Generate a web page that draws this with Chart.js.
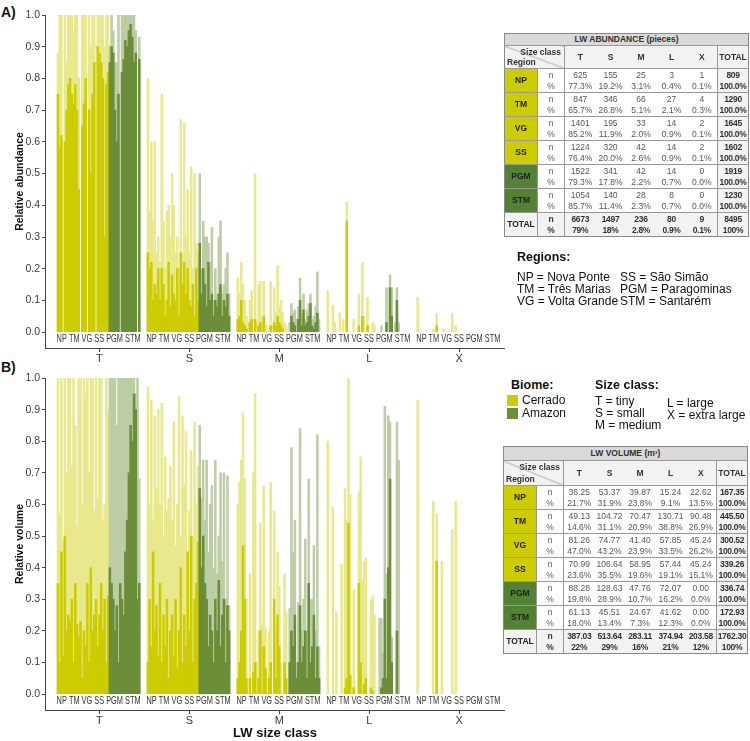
<!DOCTYPE html>
<html>
<head>
<meta charset="utf-8">
<script src="https://cdn.jsdelivr.net/npm/chart.js@4.4.1/dist/chart.umd.min.js"></script>
<style>
  body { margin:0; background:#fff; width:750px; height:741px; position:relative; overflow:hidden;
         font-family:"Liberation Sans", Arial, sans-serif; color:#111; }
  .abs { position:absolute; white-space:nowrap; }
  .panel { font-weight:bold; font-size:14px; }
  table.lw { position:absolute; border-collapse:collapse; table-layout:fixed; border:1px solid #888;
             font-family:"Liberation Sans", Arial, sans-serif; font-size:8.5px; color:#555; }
  table.lw td { padding:0; text-align:center; vertical-align:middle; line-height:1; white-space:nowrap; overflow:hidden; }
  table.lw .ttl { background:#d9d9d9; font-weight:bold; color:#333; border-bottom:1px solid #999; }
  table.lw .hd { background:#f2f2f2; font-weight:bold; color:#333; border-bottom:1px solid #999; }
  table.lw .diag { background:linear-gradient(to top right, #f2f2f2 calc(50% - 0.6px), #888 50%, #f2f2f2 calc(50% + 0.6px)); }
  table.lw .bl { border-left:1px solid #999; }
  table.lw .bt td { border-top:1px solid #999; }
  table.lw .reg { font-weight:bold; color:#222; }
  table.lw .tot { background:#f2f2f2; font-weight:bold; color:#333; letter-spacing:-0.3px; }
  .leg { font-size:12px; line-height:12px; }
</style>
</head>
<body>
<div class="abs panel" style="left:1px;top:4px;">A)</div>
<div class="abs panel" style="left:1px;top:359px;">B)</div>

<canvas id="chartA" class="abs" style="left:0;top:0;" width="505" height="370"></canvas>
<canvas id="chartB" class="abs" style="left:0;top:360px;" width="505" height="381"></canvas>

<div id="tableA"></div>
<div id="tableB"></div>

<div class="abs leg" style="left:517px;top:251px;font-weight:bold;font-size:12.5px;">Regions:</div>
<div class="abs leg" style="left:517px;top:271px;">NP = Nova Ponte<br>TM = Três Marias<br>VG = Volta Grande</div>
<div class="abs leg" style="left:620px;top:271px;">SS = São Simão<br>PGM = Paragominas<br>STM = Santarém</div>

<div class="abs leg" style="left:511px;top:379px;font-weight:bold;font-size:12.5px;">Biome:</div>
<div class="abs" style="left:507px;top:395px;width:11px;height:11px;background:rgb(204,204,0);"></div>
<div class="abs" style="left:507px;top:408px;width:11px;height:11px;background:rgb(107,142,56);"></div>
<div class="abs leg" style="left:522px;top:394px;line-height:13px;">Cerrado<br>Amazon</div>
<div class="abs leg" style="left:595px;top:379px;font-weight:bold;font-size:12.5px;">Size class:</div>
<div class="abs leg" style="left:595px;top:395px;">T = tiny<br>S = small<br>M = medium</div>
<div class="abs leg" style="left:667px;top:397px;">L = large<br>X = extra large</div>

<script>
// ---- data ----
const classes = ['T', 'S', 'M', 'L', 'X'];
const regions = ['NP', 'TM', 'VG', 'SS', 'PGM', 'STM'];
const regionBars = [7, 7, 8, 8, 9, 9];   // sampled sites per region (bars)
const amazonRegions = ['PGM', 'STM'];
const yTicks = [0, 0.1, 0.2, 0.3, 0.4, 0.5, 0.6, 0.7, 0.8, 0.9, 1.0];

// relative abundance: top = highest sample (light), base = overlapped part (solid)
const abundT_top  = [0.88,1,1,0,1,0.85,1, 1,1,0.95,1,1,0.8,0, 1,1,1,0,1,0.9,1,1, 0,1,1,1,1,0.9,1,1, 0.9,1,0.95,0.85,0.85,1,0,1,1, 1,1,1,1,1,1,0.95,0,0.93];
const abundT_base = [0.75,0.58,0.62,0,0.6,0.7,0.78, 0.8,0.75,0.72,0.78,0.7,0.45,0, 0.65,0.72,0.8,0,0.7,0.5,0.75,0.85, 0,0.9,0.88,0.85,0.8,0.3,0.78,0.82, 0.85,0.9,0.88,0.7,0.6,0.75,0,0.82,0.86, 0.92,0.9,0.95,0.97,0.93,0.85,0.88,0,0.86];
const abundS_top  = [0.8,0.38,0.6,0.35,0.6,0.25,0.3, 0.22,0.75,0.35,0.2,0.38,0.4,0.3, 0.5,0.4,0.25,0.3,0.2,0.67,0.25,0.66, 0.3,0.45,0.25,0.52,0.2,0.5,0.28,0.25, 0.5,0.2,0.35,0.3,0.3,0.28,0.22,0.33,0.1, 0.2,0.12,0.3,0.35,0.12,0.15,0.2,0.25,0.12];
const abundS_base = [0.25,0.2,0.22,0.1,0.15,0.12,0.2, 0.1,0.2,0.15,0.05,0.1,0.22,0.08, 0.18,0.12,0.1,0.2,0.05,0.25,0.15,0.22, 0.12,0.2,0.1,0.08,0.15,0.05,0.2,0.1, 0.28,0.12,0.2,0.15,0.08,0.22,0.1,0.12,0.05, 0.1,0.08,0.12,0.15,0.05,0.1,0.08,0.12,0.05];
const abundM_top  = [0.17,0.12,0.22,0.15,0.1,0.05,0.03, 0.1,0.13,0,0.5,0.03,0.15,0.16, 0.04,0.16,0.03,0.02,0,0.16,0.02,0.14, 0.06,0.21,0.08,0.1,0.06,0.03,0.02,0, 0.03,0.09,0.06,0.07,0.04,0.08,0.17,0.06,0.12, 0.04,0.07,0.09,0.12,0.04,0.05,0.08,0.19,0.04];
const abundM_base = [0.04,0.05,0.1,0.03,0.02,0.01,0, 0.03,0.04,0,0.04,0,0.02,0.03, 0,0.05,0,0,0,0.02,0,0.03, 0.02,0.05,0.03,0.02,0.01,0,0,0, 0,0.05,0.03,0.02,0,0.04,0.1,0.02,0.07, 0.02,0.03,0.05,0.09,0.02,0.01,0.03,0.06,0];
const abundL_top  = [0.13,0,0,0.085,0.03,0,0, 0.06,0,0.04,0,0.41,0,0, 0,0.04,0,0,0.12,0,0.22,0.05, 0,0.11,0,0,0.03,0.02,0,0, 0,0.02,0,0,0.14,0,0.18,0.14,0, 0.03,0.14,0.03,0,0,0,0,0,0];
const abundL_base = [0,0,0,0,0,0,0, 0,0,0,0,0.35,0,0, 0,0,0,0,0.02,0,0.05,0, 0,0.02,0,0,0,0,0,0, 0,0,0,0,0.03,0,0.14,0.05,0, 0,0.1,0,0,0,0,0,0,0];
const abundX_top  = [0.11,0,0,0,0,0,0, 0,0,0.01,0,0.06,0,0, 0,0.01,0,0,0,0,0.06,0, 0.02,0,0,0,0,0,0,0, 0,0,0,0,0,0,0,0,0, 0,0,0,0,0,0,0,0,0];
const abundX_base = [0,0,0,0,0,0,0, 0,0,0,0,0.02,0,0, 0,0,0,0,0,0,0,0, 0,0,0,0,0,0,0,0, 0,0,0,0,0,0,0,0,0, 0,0,0,0,0,0,0,0,0];

// relative volume
const volT_top  = [1,0.57,1,0.48,1,0.7,1, 1,0.72,1,0.85,0.53,1,1, 0.6,1,0.95,1,0.7,1,1,0.58, 1,0.62,1,1,0.55,0.6,1,0.9, 1,1,1,1,0.85,1,1,1,1, 1,1,1,1,1,1,0.95,1,0.68];
const volT_base = [0.35,0.1,0.45,0.12,0.5,0.2,0.25, 0.23,0.3,0.1,0.35,0.22,0.18,0.23, 0.05,0.2,0.15,0.35,0.1,0.4,0.2,0.25, 0.3,0.15,0.25,0.35,0.2,0.3,0.1,0.31, 0.4,0.35,0.3,0.2,0.28,0.1,0.35,0.3,0.25, 0.45,0.55,0.7,0.85,0.8,0.95,0.9,0.3,0.35];
const volS_top  = [0.97,0.6,0.93,0.55,0.88,0.65,0.9, 0.6,0.92,0.5,0.75,0.58,0.62,0.72, 0.55,0.86,0.47,0.6,0.94,0.5,0.88,0.66, 0.83,0.45,0.58,0.77,0.5,0.86,0.6,0.72, 0.85,0.62,0.74,0.55,0.74,0.45,0.6,0.66,0.4, 0.74,0.38,0.5,0.7,0.42,0.7,0.3,0.69,0.28];
const volS_base = [0.1,0.3,0.15,0.45,0.2,0.28,0.12, 0.35,0.1,0.25,0.15,0.3,0.05,0.2, 0.25,0.12,0.3,0.08,0.2,0.4,0.1,0.25, 0.15,0.45,0.2,0.5,0.1,0.3,0.35,0.48, 0.65,0.4,0.5,0.35,0.3,0.15,0.25,0.2,0.1, 0.3,0.2,0.36,0.15,0.25,0.3,0.1,0.28,0.2];
const volM_top  = [0.6,0.67,0.74,0.89,0.68,0.3,0, 0.38,0,0.7,0.95,0.1,0.2,0.54, 0.22,0.66,0.21,0,0.2,0.67,0,0.58, 0.2,0.45,0.34,0.1,0,0.38,0.26,0, 0.27,0.78,0.45,0.55,0.1,0.29,0.84,0.2,0.3, 0.49,0.2,0.68,0.3,0.3,0.47,0.2,0.82,0.15];
const volM_base = [0.05,0.1,0.2,0.47,0.3,0.05,0, 0.05,0,0.07,0.1,0,0.05,0.2, 0,0.15,0.08,0,0.05,0.1,0,0.3, 0.05,0.25,0.15,0,0,0.1,0.05,0, 0.1,0.2,0.15,0.25,0.05,0.1,0.28,0.1,0.15, 0.2,0.05,0.35,0.1,0.15,0.25,0.05,0.15,0.05];
const volL_top  = [0.8,0,0,0.59,0,0.26,0, 0,0.41,0,0.65,0.55,1.0,0.63, 0,0.33,0,0,0.64,0.75,0.36,0.42, 0.43,0,0,0.3,0.31,0.25,0,0, 0.24,0.24,0.13,0.91,0.38,0.88,0.86,0.18,0, 0,0.86,0.74,0,0,0,0,0,0];
const volL_base = [0,0,0,0,0,0,0, 0,0,0,0.02,0.05,0.54,0.06, 0,0.02,0,0,0.35,0.1,0,0.03, 0.05,0,0,0.02,0.01,0,0,0, 0,0.02,0.05,0.3,0.05,0.4,0.68,0.1,0, 0,0.2,0,0,0,0,0,0,0];
const volX_top  = [0.93,0,0,0,0,0,0, 0,0,0.61,0,0.57,0,0, 0.42,0,0,0,0,0,0.52,0, 0.61,0,0,0,0,0,0,0, 0,0,0,0,0,0,0,0,0, 0,0,0,0,0,0,0,0,0];
const volX_base = [0,0,0,0,0,0,0, 0,0,0,0,0.42,0,0, 0,0,0,0,0,0,0,0, 0,0,0,0,0,0,0,0, 0,0,0,0,0,0,0,0,0, 0,0,0,0,0,0,0,0,0];

// tables
const tableRows = ['NP', 'TM', 'VG', 'SS', 'PGM', 'STM', 'TOTAL'];
const abundN = [
  ['625','155','25','3','1','809'], ['847','346','66','27','4','1290'], ['1401','195','33','14','2','1645'],
  ['1224','320','42','14','2','1602'], ['1522','341','42','14','0','1919'], ['1054','140','28','8','0','1230'],
  ['6673','1497','236','80','9','8495']];
const abundPct = [
  ['77.3%','19.2%','3.1%','0.4%','0.1%','100.0%'], ['65.7%','26.8%','5.1%','2.1%','0.3%','100.0%'],
  ['85.2%','11.9%','2.0%','0.9%','0.1%','100.0%'], ['76.4%','20.0%','2.6%','0.9%','0.1%','100.0%'],
  ['79.3%','17.8%','2.2%','0.7%','0.0%','100.0%'], ['85.7%','11.4%','2.3%','0.7%','0.0%','100.0%'],
  ['79%','18%','2.8%','0.9%','0.1%','100%']];
const volN = [
  ['36.25','53.37','39.87','15.24','22.62','167.35'], ['49.13','104.72','70.47','130.71','90.48','445.50'],
  ['81.26','74.77','41.40','57.85','45.24','300.52'], ['70.99','106.64','58.95','57.44','45.24','339.26'],
  ['88.28','128.63','47.76','72.07','0.00','336.74'], ['61.13','45.51','24.67','41.62','0.00','172.93'],
  ['387.03','513.64','283.11','374.94','203.58','1762.30']];
const volPct = [
  ['21.7%','31.9%','23.8%','9.1%','13.5%','100.0%'], ['14.6%','31.1%','20.9%','38.8%','26.9%','100.0%'],
  ['47.0%','43.2%','23.9%','33.5%','26.2%','100.0%'], ['23.6%','35.5%','19.6%','19.1%','15.1%','100.0%'],
  ['19.8%','28.9%','10.7%','16.2%','0.0%','100.0%'], ['18.0%','13.4%','7.3%','12.3%','0.0%','100.0%'],
  ['22%','29%','16%','21%','12%','100%']];

// ---- layout of bar slots ----
const PAD_L = 7, GAP = 4, PAD_R = 3;
const CER = 'rgb(204,204,0)', AMZ = 'rgb(107,142,56)';
// light tones = the same colours at ~45% over white (opaque, so bars can overlap without seams)
const CER_L = 'rgb(232,232,140)', AMZ_L = 'rgb(188,204,165)';

function buildSlots(groups, fill) {
  const out = [];
  for (let i = 0; i < PAD_L; i++) out.push(fill);
  groups.forEach((g, gi) => {
    g.forEach(v => out.push(v));
    if (gi < groups.length - 1) for (let i = 0; i < GAP; i++) out.push(fill);
  });
  for (let i = 0; i < PAD_R; i++) out.push(fill);
  return out;
}
// zero = no bar drawn
const nz = arr => arr.map(v => (v ? v : null));

const regionOfBar = [];
regionBars.forEach((n, r) => { for (let i = 0; i < n; i++) regionOfBar.push(regions[r]); });
const barsPerGroup = regionOfBar.length;
const slotRegion = buildSlots(classes.map(() => regionOfBar), null);
const slotLabels = buildSlots(classes.map(c => regionOfBar.map((r, i) => i === barsPerGroup / 2 ? c : '')), '');
const solidColors = slotRegion.map(r => amazonRegions.includes(r) ? AMZ : CER);
const lightColors = slotRegion.map(r => amazonRegions.includes(r) ? AMZ_L : CER_L);

const regionText = {
  id: 'regionText',
  afterDatasetsDraw(chart) {
    const { ctx, scales: { x, y } } = chart;
    const step = x.getPixelForValue(1) - x.getPixelForValue(0);
    ctx.save();
    ctx.font = '10px "Liberation Sans", Arial';
    ctx.fillStyle = '#333';
    ctx.textAlign = 'center';
    ctx.textBaseline = 'middle';
    classes.forEach((c, gi) => {
      const idx = PAD_L + gi * (barsPerGroup + GAP) + barsPerGroup / 2;
      ctx.fillText(regions.join(' '), x.getPixelForValue(idx) - step / 2, y.getPixelForValue(0) + 7, 84);
    });
    ctx.restore();
  }
};

function makeChart(id, top, base, yTitle, xTitle, padTop, xHeight) {
  return new Chart(document.getElementById(id), {
    type: 'bar',
    data: {
      labels: slotLabels,
      datasets: [
        { data: nz(base), backgroundColor: solidColors, order: 1 },
        { data: nz(top), backgroundColor: lightColors, order: 2 }
      ]
    },
    options: {
      responsive: false,
      animation: false,
      datasets: { bar: { grouped: false, barPercentage: 1, categoryPercentage: 1, borderWidth: 0, inflateAmount: 0.4 } },
      layout: { padding: { left: 14, top: padTop, right: 0, bottom: 0 } },
      plugins: { legend: { display: false }, tooltip: { enabled: false } },
      scales: {
        x: {
          grid: { drawOnChartArea: false, offset: false, tickLength: 4,
                  color: c => slotLabels[c.index] ? '#444' : 'rgba(0,0,0,0)' },
          border: { color: '#444', width: 1 },
          ticks: { autoSkip: false, maxRotation: 0, minRotation: 0, padding: 0, color: '#3a3a3a',
                   font: { size: 11, family: '"Liberation Sans", Arial' } },
          title: { display: !!xTitle, text: xTitle, color: '#111', padding: 0,
                   font: { size: 13, weight: 'bold', family: '"Liberation Sans", Arial' } },
          afterFit: s => { s.height = xHeight; }
        },
        y: {
          min: -0.05, max: 1.0,
          afterBuildTicks: s => { s.ticks = yTicks.map(v => ({ value: v })); },
          grid: { drawOnChartArea: false, tickLength: 3, color: '#444' },
          border: { color: '#444', width: 1 },
          ticks: { color: '#3a3a3a', padding: 2, font: { size: 10.5, family: '"Liberation Sans", Arial' },
                   callback: v => Number(v).toFixed(1) },
          title: { display: true, text: yTitle, color: '#111', padding: 0,
                   font: { size: 10.5, weight: 'bold', family: '"Liberation Sans", Arial' } },
          afterFit: s => { s.width = 31; }
        }
      }
    },
    plugins: [regionText]
  });
}

makeChart('chartA',
  buildSlots([abundT_top, abundS_top, abundM_top, abundL_top, abundX_top], null),
  buildSlots([abundT_base, abundS_base, abundM_base, abundL_base, abundX_base], null),
  'Relative abundance', '', 15, 22);
makeChart('chartB',
  buildSlots([volT_top, volS_top, volM_top, volL_top, volX_top], null),
  buildSlots([volT_base, volS_base, volM_base, volL_base, volX_base], null),
  'Relative volume', 'LW size class', 18, 31);

// ---- tables ----
function makeTable(hostId, title, nRows, pctRows, left, top, titleH, headH, rowH) {
  const cols = [33, 27, 31, 30, 31, 30, 31, 31];
  let h = `<table class="lw" style="left:${left}px;top:${top}px;width:${cols.reduce((a, b) => a + b, 0)}px;">`;
  h += '<colgroup>' + cols.map(w => `<col style="width:${w}px">`).join('') + '</colgroup>';
  h += `<tr style="height:${titleH}px"><td colspan="8" class="ttl">${title}</td></tr>`;
  h += `<tr style="height:${headH}px"><td colspan="2" class="hd diag" style="text-align:left;">` +
       `<div style="position:relative;height:${headH}px;">` +
       `<span style="position:absolute;right:3px;top:2px;">Size class</span>` +
       `<span style="position:absolute;left:2px;bottom:2px;">Region</span></div></td>`;
  classes.forEach((c, i) => { h += `<td class="hd${i === 0 ? ' bl' : ''}">${c}</td>`; });
  h += '<td class="hd bl">TOTAL</td></tr>';
  tableRows.forEach((r, ri) => {
    const isTot = r === 'TOTAL';
    const bg = isTot ? '#f2f2f2' : (amazonRegions.includes(r) ? 'rgb(84,130,53)' : CER);
    const cell = isTot ? ' tot' : '';
    h += `<tr class="bt" style="height:${rowH}px"><td rowspan="2" class="reg" style="background:${bg}">${r}</td>`;
    h += `<td class="bl${cell}">n</td>`;
    nRows[ri].forEach((v, i) => {
      const last = i === nRows[ri].length - 1;
      h += `<td class="${i === 0 || last ? 'bl' : ''}${last || isTot ? ' tot' : ''}">${v}</td>`;
    });
    h += `</tr><tr style="height:${rowH}px"><td class="bl${cell}">%</td>`;
    pctRows[ri].forEach((v, i) => {
      const last = i === pctRows[ri].length - 1;
      h += `<td class="${i === 0 || last ? 'bl' : ''}${last || isTot ? ' tot' : ''}">${v}</td>`;
    });
    h += '</tr>';
  });
  h += '</table>';
  document.getElementById(hostId).innerHTML = h;
}

makeTable('tableA', 'LW ABUNDANCE (pieces)', abundN, abundPct, 504, 33, 12, 22, 12);
makeTable('tableB', 'LW VOLUME (m³)', volN, volPct, 503, 446, 14, 24, 12);
</script>
</body>
</html>
